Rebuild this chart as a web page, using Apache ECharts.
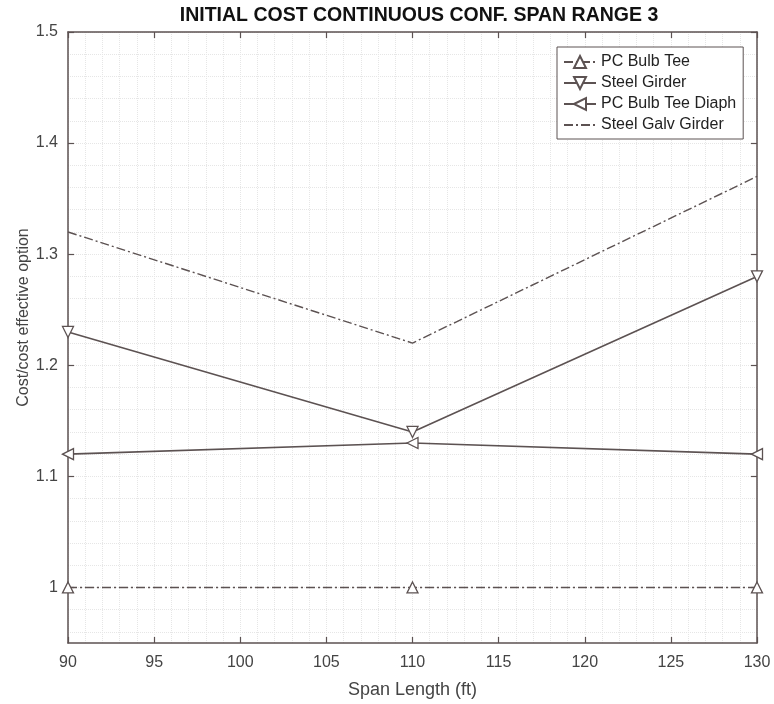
<!DOCTYPE html>
<html>
<head>
<meta charset="utf-8">
<script src="https://cdn.jsdelivr.net/npm/echarts@6/dist/echarts.min.js"></script>
<style>
html,body{margin:0;padding:0;background:#fff;}
#chart{width:774px;height:704px;}
</style>
</head>
<body>
<div id="chart"></div>
<script>
const spanLength = [90, 110, 130];
const pcBulbTee = [1.00, 1.00, 1.00];
const steelGirder = [1.23, 1.14, 1.28];
const pcBulbTeeDiaph = [1.12, 1.13, 1.12];
const steelGalvGirder = [1.32, 1.22, 1.37];
const xTickLabels = [90, 95, 100, 105, 110, 115, 120, 125, 130];
const yTickLabels = [1, 1.1, 1.2, 1.3, 1.4, 1.5];

const ink = '#5c5252';
const txt = '#444';
const gridCol = '#e6e6e6';
const dashDot = [9, 3, 2, 3];
const font = 'Liberation Sans, Arial, sans-serif';

const yMinorGrid = [];
for (let i = 0; i <= 27; i++) yMinorGrid.push(+(0.96 + i * 0.02).toFixed(2));

function pts(vals) { return spanLength.map((x, i) => [x, vals[i]]); }

const chart = echarts.init(document.getElementById('chart'));
chart.setOption({
  animation: false,
  backgroundColor: '#fff',
  title: {
    text: 'INITIAL COST CONTINUOUS CONF. SPAN RANGE 3',
    left: 414, textAlign: 'center', top: 1,
    textStyle: { fontFamily: 'Liberation Sans Narrow, Arial, sans-serif', fontWeight: 'bold', fontSize: 19.5, color: '#111' }
  },
  legend: {
    orient: 'vertical', left: 557, top: 47,
    backgroundColor: '#fff', borderColor: ink, borderWidth: 1,
    padding: [7, 7, 6, 6], itemGap: 5, itemWidth: 32, itemHeight: 15,
    textStyle: { fontFamily: font, fontSize: 16, color: '#222' },
    data: [
      'PC Bulb Tee', 'Steel Girder', 'PC Bulb Tee Diaph',
      { name: 'Steel Galv Girder', itemStyle: { opacity: 0 } }
    ]
  },
  grid: { left: 68, right: 17, top: 32, bottom: 61, containLabel: false },
  xAxis: [
    {
      type: 'value', position: 'bottom', min: 90, max: 130, interval: 5,
      name: 'Span Length (ft)', nameLocation: 'middle', nameGap: 38,
      nameTextStyle: { fontFamily: font, fontSize: 18, color: txt },
      axisLine: { show: true, onZero: false, lineStyle: { color: ink, width: 1.5 } },
      axisTick: { show: true, inside: true, length: 6, lineStyle: { color: ink, width: 1.2 } },
      axisLabel: { fontFamily: font, fontSize: 16, color: txt, margin: 12, showMinLabel: true, showMaxLabel: true },
      splitLine: { show: true, lineStyle: { color: gridCol, type: 'dotted', width: 1 } },
      minorTick: { show: false, splitNumber: 5 },
      minorSplitLine: { show: true, lineStyle: { color: gridCol, type: 'dotted', width: 1 } }
    },
    {
      type: 'value', position: 'top', min: 90, max: 130, interval: 5,
      axisLine: { show: true, onZero: false, lineStyle: { color: ink, width: 1.5 } },
      axisTick: { show: true, inside: true, length: 6, lineStyle: { color: ink, width: 1.2 } },
      axisLabel: { show: false },
      splitLine: { show: false }
    }
  ],
  yAxis: [
    {
      type: 'value', position: 'left', min: 0.95, max: 1.5,
      name: 'Cost/cost effective option', nameLocation: 'middle', nameGap: 36, nameMoveOverlap: false,
      nameTextStyle: { fontFamily: font, fontSize: 16, color: txt, padding: [0, 0, 0, 40] },
      axisLine: { show: true, onZero: false, lineStyle: { color: ink, width: 1.5 } },
      axisTick: { show: true, inside: true, length: 6, customValues: yTickLabels, lineStyle: { color: ink, width: 1.2 } },
      axisLabel: { fontFamily: font, fontSize: 16, color: txt, margin: 10,
        customValues: yTickLabels, formatter: v => String(Math.round(v * 10) / 10) },
      splitLine: { show: false }
    },
    {
      type: 'value', position: 'right', min: 0.95, max: 1.5,
      axisLine: { show: true, onZero: false, lineStyle: { color: ink, width: 1.5 } },
      axisTick: { show: true, inside: true, length: 6, customValues: yTickLabels, lineStyle: { color: ink, width: 1.2 } },
      axisLabel: { show: false, customValues: yTickLabels },
      splitLine: { show: false }
    },
    {
      type: 'value', position: 'left', min: 0.95, max: 1.5,
      axisLine: { show: false },
      axisTick: { show: false, customValues: yMinorGrid },
      axisLabel: { show: false, customValues: yMinorGrid },
      splitLine: { show: true, lineStyle: { color: gridCol, type: 'dotted', width: 1 } }
    }
  ],
  series: [
    {
      name: 'PC Bulb Tee', type: 'line', data: pts(pcBulbTee), clip: false, z: 5,
      symbol: 'triangle', symbolSize: 11, symbolRotate: 0, showAllSymbol: true,
      lineStyle: { color: ink, width: 1.4, type: dashDot },
      itemStyle: { color: '#fff', borderColor: ink, borderWidth: 1.3 }
    },
    {
      name: 'Steel Girder', type: 'line', data: pts(steelGirder), clip: false, z: 5,
      symbol: 'triangle', symbolSize: 11, symbolRotate: 180,
      lineStyle: { color: ink, width: 1.6, type: 'solid' },
      itemStyle: { color: '#fff', borderColor: ink, borderWidth: 1.3 }
    },
    {
      name: 'PC Bulb Tee Diaph', type: 'line', data: pts(pcBulbTeeDiaph), clip: false, z: 5,
      symbol: 'triangle', symbolSize: 11, symbolRotate: 90,
      lineStyle: { color: ink, width: 1.6, type: 'solid' },
      itemStyle: { color: '#fff', borderColor: ink, borderWidth: 1.3 }
    },
    {
      name: 'Steel Galv Girder', type: 'line', data: pts(steelGalvGirder), clip: false, z: 5,
      symbol: 'none',
      lineStyle: { color: ink, width: 1.4, type: dashDot },
      itemStyle: { color: ink }
    }
  ]
});
</script>
</body>
</html>
